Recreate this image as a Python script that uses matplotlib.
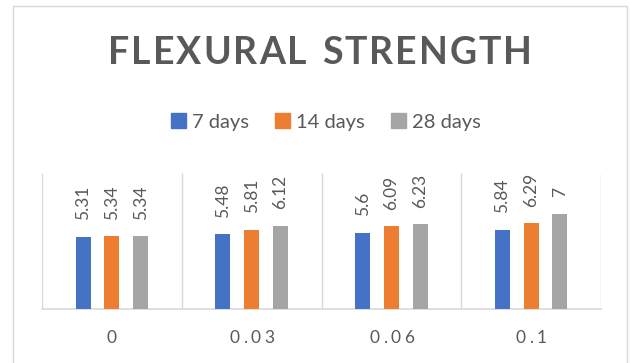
import matplotlib
matplotlib.use('Agg')
import matplotlib.pyplot as plt
import numpy as np
from matplotlib.patches import Patch, Rectangle

categories = ['0', '0.03', '0.06', '0.1']
series_names = ['7 days', '14 days', '28 days']
days_7 = [5.31, 5.48, 5.6, 5.84]
days_14 = [5.34, 5.81, 6.09, 6.29]
days_28 = [5.34, 6.12, 6.23, 7]
colors = ['#4472C4', '#ED7D31', '#A5A5A5']
TXT = '#595959'
GRID = '#D9D9D9'
FONT = 'Lato'

W, H = 630, 363
fig = plt.figure(figsize=(W / 100, H / 100), dpi=100)
# chart frame
fig.patches.append(Rectangle((13 / W, -0.01), 614 / W, 1 - 6 / H + 0.01,
                             transform=fig.transFigure, fill=False,
                             edgecolor=GRID, lw=1))

ax = fig.add_axes([42 / W, 1 - 309 / H, 559 / W, 136 / H])
x = np.arange(len(categories))
bw = 0.107
step = 0.206
for k, vals in enumerate([days_7, days_14, days_28]):
    pos = x + (k - 1) * step
    ax.bar(pos, vals, bw, color=colors[k], zorder=3)
    for p, v in zip(pos, vals):
        ax.annotate(f'{v:g}', (p, v), xytext=(0, 12), textcoords='offset points',
                    rotation=90, ha='center', va='bottom', fontsize=12.5,
                    color=TXT, family=FONT)

ax.set_xlim(-0.5, len(categories) - 0.5)
ax.set_ylim(0, 10)
ax.vlines(np.arange(len(categories) + 1) - 0.5, 0, 10, color=GRID, lw=1, zorder=1)
for s in ['top', 'left', 'right']:
    ax.spines[s].set_visible(False)
ax.spines['bottom'].set_color(GRID)
ax.spines['bottom'].set_linewidth(1.2)
ax.set_yticks([])
ax.set_xticks([])

renderer = fig.canvas.get_renderer()


def spaced(xc, yc, s, size, weight='normal', spacing=None, width=None):
    # draw text char by char to mimic letter spacing (pixel coords)
    widths = []
    for ch in s:
        t = fig.text(0, 0, ch if ch != ' ' else 'n', fontsize=size,
                     weight=weight, family=FONT)
        bb = t.get_window_extent(renderer)
        w = bb.width if ch != ' ' else bb.width * 0.55
        widths.append(w)
        t.remove()
    if width is not None:
        spacing = (width - sum(widths)) / (len(s) - 1)
    total = sum(widths) + spacing * (len(s) - 1)
    xx = xc - total / 2
    for ch, w in zip(s, widths):
        if ch != ' ':
            fig.text(xx / W, 1 - yc / H, ch, fontsize=size, weight=weight,
                     family=FONT, color=TXT, ha='left', va='center')
        xx += w + spacing


spaced(320, 53, 'FLEXURAL STRENGTH', 27, weight='bold', width=424)

for i, c in enumerate(categories):
    xc = 42 + (i + 0.5) * 559 / len(categories)
    spaced(xc, 338, c, 12.5, spacing=3.5)

handles = [Patch(color=colors[k], label=series_names[k]) for k in range(3)]
leg = fig.legend(handles=handles, loc='center', bbox_to_anchor=(326 / W, 1 - 122 / H),
                 ncol=3, frameon=False, handlelength=0.75, handleheight=0.75,
                 handletextpad=0.3, columnspacing=1.3,
                 prop={'family': FONT, 'size': 14.5})
for t in leg.get_texts():
    t.set_color(TXT)

fig.savefig('out.png', dpi=100)
